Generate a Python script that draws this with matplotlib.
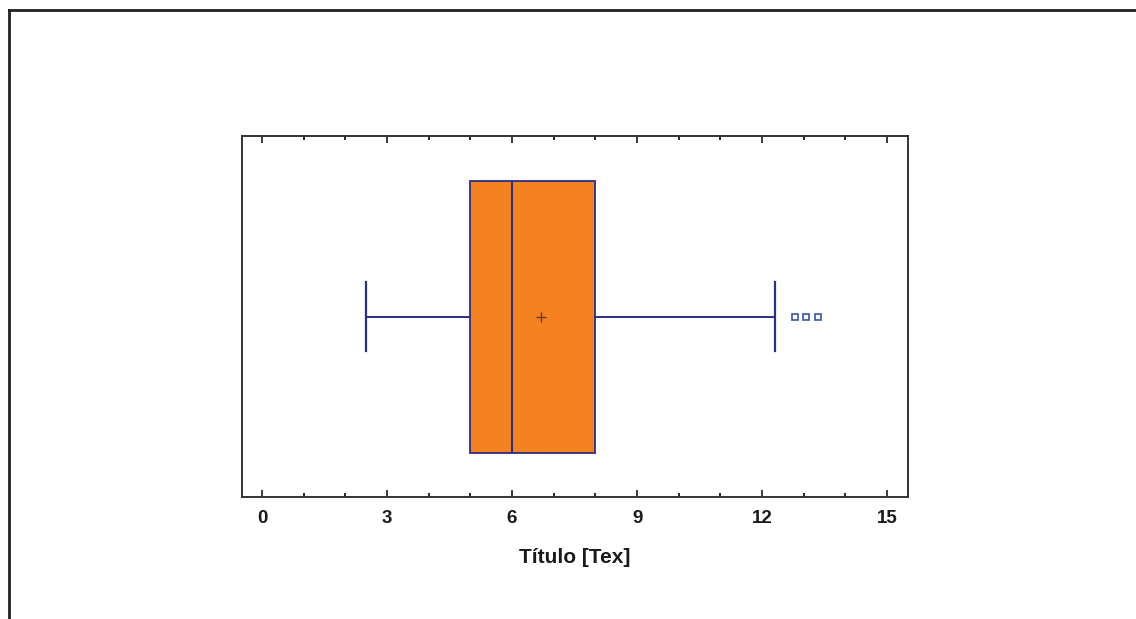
import matplotlib
matplotlib.use("Agg")
import matplotlib.pyplot as plt
from matplotlib.lines import Line2D
from matplotlib.ticker import MultipleLocator

plt.rcParams["font.family"] = "sans-serif"
plt.rcParams["font.sans-serif"] = ["Liberation Sans", "Arial", "DejaVu Sans"]

# ── Summary statistics for the sample ─────────────────────────
whisker_low = 2.5
q1 = 5.0
median = 6.0
q3 = 8.0
whisker_high = 12.3
mean = 6.7
outliers = [12.8, 13.05, 13.35]

xlabel = "Título [Tex]"
xticks = [0, 3, 6, 9, 12, 15]

BOX_FILL = "#F58220"
EDGE = "#2B2E83"
FLIER = "#3A55A5"
MEAN_C = "#6B3A1E"

fig = plt.figure(figsize=(11.36, 6.19), dpi=100)
ax = fig.add_axes([0.2130, 0.1963, 0.5863, 0.5840])

stats = [{
    "whislo": whisker_low, "q1": q1, "med": median, "q3": q3,
    "whishi": whisker_high, "mean": mean, "fliers": outliers,
}]

ax.bxp(stats, positions=[0.5], widths=0.752, vert=False, patch_artist=True,
       showmeans=True, capwidths=0.19,
       boxprops=dict(facecolor=BOX_FILL, edgecolor=EDGE, linewidth=1.3),
       medianprops=dict(color=EDGE, linewidth=1.5),
       whiskerprops=dict(color=EDGE, linewidth=1.4),
       capprops=dict(color=EDGE, linewidth=1.6),
       flierprops=dict(marker="s", markersize=5, markerfacecolor="none",
                       markeredgecolor=FLIER, markeredgewidth=1.2),
       meanprops=dict(marker="+", markersize=7, markeredgecolor=MEAN_C,
                      markeredgewidth=1.0))

ax.set_xlim(-0.48, 15.5)
ax.set_ylim(0, 1)
ax.set_yticks([])
ax.set_xticks(xticks)
ax.xaxis.set_minor_locator(MultipleLocator(1))
ax.tick_params(axis="x", which="major", direction="in", length=5, width=1.2,
               top=True, labelsize=13.5, pad=9, colors="#1a1a1a")
ax.tick_params(axis="x", which="minor", direction="in", length=3, width=1.2,
               top=True)
for lbl in ax.get_xticklabels():
    lbl.set_fontweight("bold")
ax.set_xlabel(xlabel, fontsize=15, fontweight="bold", labelpad=15,
              color="#1a1a1a")
for sp in ax.spines.values():
    sp.set_linewidth(1.4)
    sp.set_color("#333333")

# outer frame (top and left edges)
fig.add_artist(Line2D([8.5 / 1136, 1.0], [1 - 10 / 619, 1 - 10 / 619],
                      transform=fig.transFigure, color="#222222", linewidth=2))
fig.add_artist(Line2D([8.5 / 1136, 8.5 / 1136], [1 - 10 / 619, 0.0],
                      transform=fig.transFigure, color="#222222", linewidth=2))

fig.savefig("out.png", dpi=100)
